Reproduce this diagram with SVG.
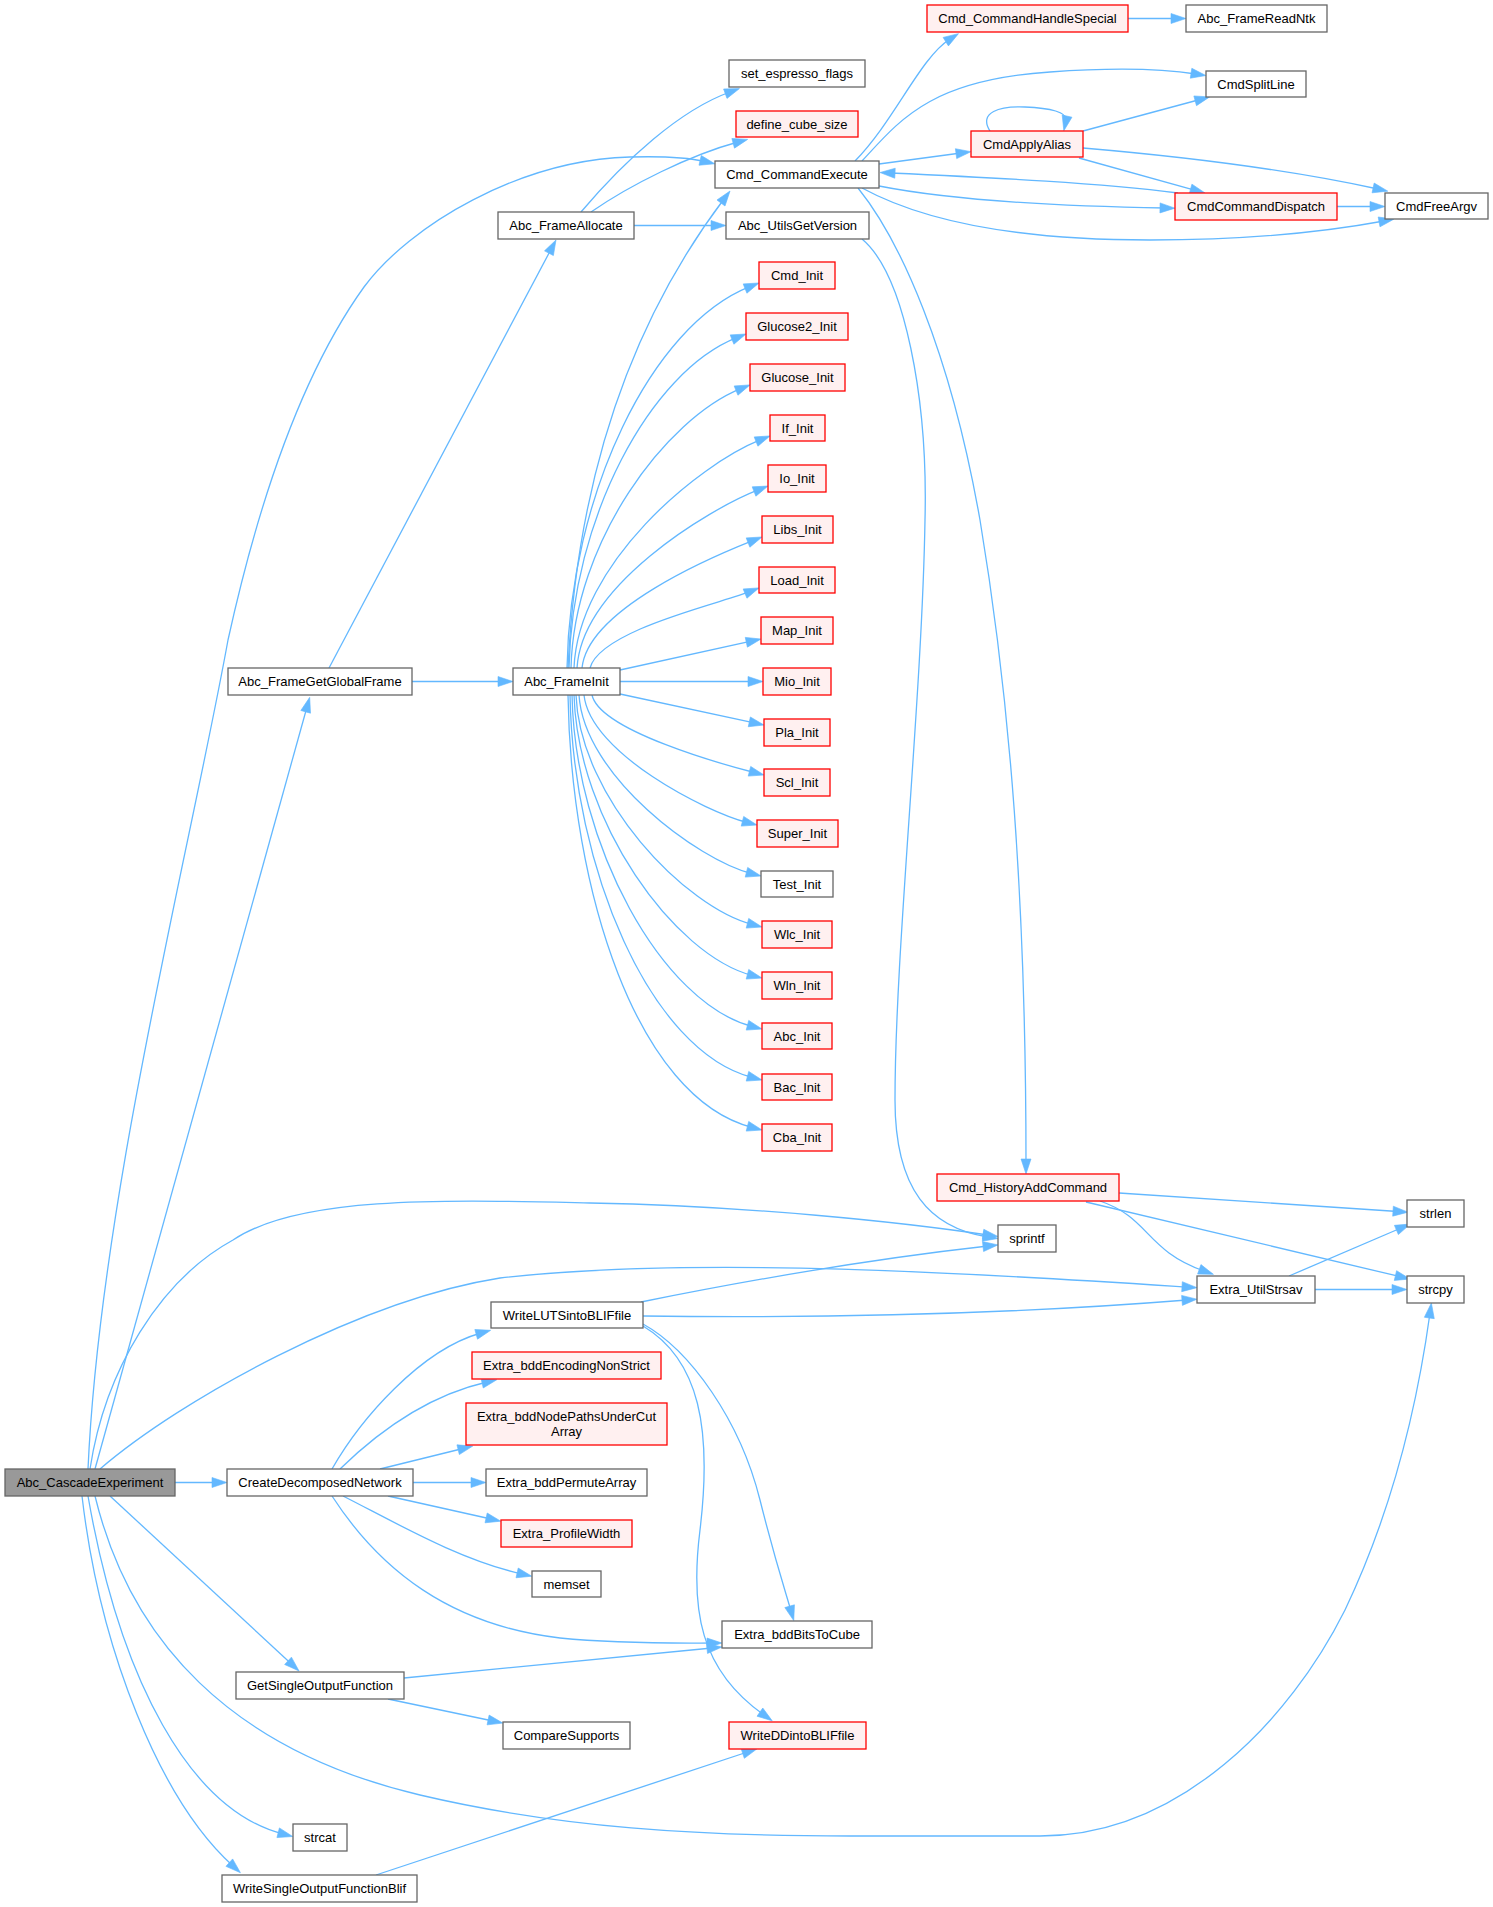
<svg xmlns="http://www.w3.org/2000/svg" width="1493" height="1907" viewBox="0 0 1493 1907">
<defs>
<style>
.n rect{fill:#ffffff;stroke:#666666;stroke-width:1.3}
.r rect{fill:#fff0f0;stroke:#ff0000;stroke-width:1.3}
.root rect{fill:#999999;stroke:#666666;stroke-width:1.3}
text{font-family:"Liberation Sans",Arial,Helvetica,sans-serif;font-size:13px;text-anchor:middle;fill:#000000}
#edges path{fill:none;stroke:#63b8ff;stroke-width:1.3;marker-end:url(#ah)}
</style>
<marker id="ah" markerUnits="userSpaceOnUse" markerWidth="15" markerHeight="10" viewBox="0 0 15 10" refX="5" refY="5" orient="auto" overflow="visible">
<path d="M0,0L15,5L0,10z" fill="#63b8ff" stroke="#63b8ff" stroke-width="0.6"/>
</marker>
</defs>
<rect width="1493" height="1907" fill="#ffffff"/>
<g id="edges">
<path d="M88,1469 C100,1200 190,850 228,640 C250,540 290,390 364,287 C410,225 520,160 630,157 C665,156 690,158 705,161.5"/>
<path d="M95,1469 L307,707"/>
<path d="M90,1469 C105,1370 160,1280 233,1240 C300,1195 450,1200 590,1203 C750,1206 900,1222 988,1235"/>
<path d="M100,1469 C180,1400 360,1300 500,1278 C700,1255 1000,1275 1187,1287"/>
<path d="M175,1482.5 L217,1482.5"/>
<path d="M110,1496 L291.7,1664.2"/>
<path d="M88,1496 C120,1680 190,1810 283,1834"/>
<path d="M82,1496 C100,1650 160,1800 233,1866"/>
<path d="M95,1496 C130,1640 230,1750 420,1795 C560,1828 700,1836 850,1836 L1040,1836 C1180,1836 1290,1720 1345,1610 C1395,1505 1418,1400 1430,1313"/>
<path d="M329,668 L551.3,248.8"/>
<path d="M412,681.5 L503,681.5"/>
<path d="M581,212 C625,160 680,110 730,92"/>
<path d="M591,212 C630,185 690,155 738,142"/>
<path d="M634,225.5 L716,225.5"/>
<path d="M862,239 C905,275 928,400 925,520 C922,700 895,950 895,1100 C895,1190 930,1228 988,1237"/>
<path d="M568,668 C575,520 610,350 724,199"/>
<path d="M567,668 C570,495 651,326 749.7,286.7"/>
<path d="M569,668 C572,518 650,372 736.7,337.7"/>
<path d="M571,668 C574,541 666,419 740.7,388.7"/>
<path d="M574,668 C578,564 697.5,465 760.7,439.7"/>
<path d="M577,668 C582,586 707,510 758.7,489.7"/>
<path d="M582,668 C588,609 713,556.5 752.7,540.7"/>
<path d="M590,668 C600,630 722,603 749.7,591.7"/>
<path d="M620,670 L751.2,641.2"/>
<path d="M620,681.5 L753,681.5"/>
<path d="M620,694 L754.2,722.9"/>
<path d="M592,695 C600,731 725,765 754.3,772.5"/>
<path d="M584,695 C590,753 706,812 747.3,822.5"/>
<path d="M579,695 C584,776 698,860 751.3,873.5"/>
<path d="M576,695 C580,799 686,907.5 752.3,924.5"/>
<path d="M574,695 C578,822 674,955 752.3,975.5"/>
<path d="M572,695 C575,845 662,1003 752.3,1026.5"/>
<path d="M570,695 C573,868 650,1051 752.3,1077.5"/>
<path d="M568,695 C571,891 637,1098 752.3,1127.5"/>
<path d="M855,161 C895,120 920,58 950,39"/>
<path d="M862,161 C900,120 930,80 1050,72 C1120,67 1170,70 1196,74"/>
<path d="M879,164 L961,153"/>
<path d="M879,186 C950,200 1050,206 1165,208"/>
<path d="M1178,193 C1100,183 1000,178 890,173"/>
<path d="M862,188 C930,225 1030,240 1150,240 C1250,240 1330,231 1384,221"/>
<path d="M990,131 C978,112 1000,106 1025,107 C1050,108 1068,112 1066,121"/>
<path d="M1083,131 L1200,99.5"/>
<path d="M1079,158 L1195.4,190.3"/>
<path d="M1083,148 C1200,158 1300,172 1378,189"/>
<path d="M1337,206.5 L1375,206.5"/>
<path d="M1128,18.5 L1176,18.5"/>
<path d="M858,188 C900,240 950,350 980,520 C1010,700 1026,900 1026,1164"/>
<path d="M1119,1193 L1398,1211.5"/>
<path d="M1100,1201 C1150,1218 1145,1250 1204,1271"/>
<path d="M1086,1202 L1400.3,1276.7"/>
<path d="M1289,1276 L1401,1228"/>
<path d="M1315,1289.5 L1397,1289.5"/>
<path d="M332,1469 C360,1420 420,1350 481,1333"/>
<path d="M340,1469 C380,1430 430,1395 487,1382"/>
<path d="M380,1469 L463,1448.5"/>
<path d="M413,1482.5 L476,1482.5"/>
<path d="M388,1496 L491,1519"/>
<path d="M343,1496 C400,1525 460,1560 522,1574"/>
<path d="M332,1496 C380,1570 450,1625 560,1638 C620,1644 680,1643 712,1643"/>
<path d="M641,1302 C750,1280 880,1258 988,1246"/>
<path d="M643,1316 C800,1318 1000,1315 1187,1300"/>
<path d="M643,1324 C690,1350 740,1420 760,1500 C775,1560 785,1590 791,1611"/>
<path d="M643,1326 C700,1360 712,1430 700,1530 C690,1610 700,1670 764,1715"/>
<path d="M404,1678 L712,1648"/>
<path d="M388,1699 L493,1721"/>
<path d="M376,1875 L747.5,1752"/>
</g>
<g id="n_Abc_CascadeExperiment" class="root"><rect x="5" y="1469" width="170" height="27"/><text x="90" y="1487">Abc_CascadeExperiment</text></g>
<g id="n_CreateDecomposedNetwork" class="n"><rect x="227" y="1469" width="186" height="27"/><text x="320" y="1487">CreateDecomposedNetwork</text></g>
<g id="n_WriteLUTSintoBLIFfile" class="n"><rect x="491" y="1302" width="152" height="26"/><text x="567" y="1319.5">WriteLUTSintoBLIFfile</text></g>
<g id="n_Extra_bddEncodingNonStrict" class="r"><rect x="472" y="1352" width="189" height="27"/><text x="566.5" y="1370">Extra_bddEncodingNonStrict</text></g>
<g id="n_Extra_bddNodePathsUnderCutArray" class="r"><rect x="466" y="1403" width="201" height="42"/><text x="566.5" y="1421">Extra_bddNodePathsUnderCut</text><text x="566.5" y="1436">Array</text></g>
<g id="n_Extra_bddPermuteArray" class="n"><rect x="486" y="1469" width="161" height="27"/><text x="566.5" y="1487">Extra_bddPermuteArray</text></g>
<g id="n_Extra_ProfileWidth" class="r"><rect x="501" y="1520" width="131" height="27"/><text x="566.5" y="1538">Extra_ProfileWidth</text></g>
<g id="n_memset" class="n"><rect x="532" y="1571" width="69" height="26"/><text x="566.5" y="1588.5">memset</text></g>
<g id="n_Extra_bddBitsToCube" class="n"><rect x="722" y="1621" width="150" height="27"/><text x="797" y="1639">Extra_bddBitsToCube</text></g>
<g id="n_GetSingleOutputFunction" class="n"><rect x="236" y="1672" width="168" height="27"/><text x="320" y="1690">GetSingleOutputFunction</text></g>
<g id="n_CompareSupports" class="n"><rect x="503" y="1722" width="127" height="27"/><text x="566.5" y="1740">CompareSupports</text></g>
<g id="n_WriteDDintoBLIFfile" class="r"><rect x="729" y="1722" width="137" height="27"/><text x="797.5" y="1740">WriteDDintoBLIFfile</text></g>
<g id="n_strcat" class="n"><rect x="293" y="1824" width="54" height="27"/><text x="320" y="1842">strcat</text></g>
<g id="n_WriteSingleOutputFunctionBlif" class="n"><rect x="222" y="1875" width="195" height="27"/><text x="319.5" y="1893">WriteSingleOutputFunctionBlif</text></g>
<g id="n_Cmd_HistoryAddCommand" class="r"><rect x="937" y="1174" width="182" height="27"/><text x="1028" y="1192">Cmd_HistoryAddCommand</text></g>
<g id="n_sprintf" class="n"><rect x="998" y="1225" width="58" height="27"/><text x="1027" y="1243">sprintf</text></g>
<g id="n_strlen" class="n"><rect x="1407" y="1200" width="57" height="27"/><text x="1435.5" y="1218">strlen</text></g>
<g id="n_Extra_UtilStrsav" class="n"><rect x="1197" y="1276" width="118" height="27"/><text x="1256" y="1294">Extra_UtilStrsav</text></g>
<g id="n_strcpy" class="n"><rect x="1407" y="1276" width="57" height="27"/><text x="1435.5" y="1294">strcpy</text></g>
<g id="n_Cmd_CommandHandleSpecial" class="r"><rect x="927" y="5" width="201" height="27"/><text x="1027.5" y="23">Cmd_CommandHandleSpecial</text></g>
<g id="n_Abc_FrameReadNtk" class="n"><rect x="1186" y="5" width="141" height="27"/><text x="1256.5" y="23">Abc_FrameReadNtk</text></g>
<g id="n_set_espresso_flags" class="n"><rect x="729" y="60" width="136" height="27"/><text x="797" y="78">set_espresso_flags</text></g>
<g id="n_CmdSplitLine" class="n"><rect x="1206" y="71" width="100" height="26"/><text x="1256" y="88.5">CmdSplitLine</text></g>
<g id="n_define_cube_size" class="r"><rect x="736" y="111" width="122" height="26"/><text x="797" y="128.5">define_cube_size</text></g>
<g id="n_CmdApplyAlias" class="r"><rect x="971" y="131" width="112" height="26"/><text x="1027" y="148.5">CmdApplyAlias</text></g>
<g id="n_Cmd_CommandExecute" class="n"><rect x="715" y="161" width="164" height="27"/><text x="797" y="179">Cmd_CommandExecute</text></g>
<g id="n_CmdCommandDispatch" class="r"><rect x="1175" y="193" width="162" height="27"/><text x="1256" y="211">CmdCommandDispatch</text></g>
<g id="n_CmdFreeArgv" class="n"><rect x="1385" y="193" width="103" height="26"/><text x="1436.5" y="210.5">CmdFreeArgv</text></g>
<g id="n_Abc_UtilsGetVersion" class="n"><rect x="726" y="212" width="143" height="27"/><text x="797.5" y="230">Abc_UtilsGetVersion</text></g>
<g id="n_Abc_FrameAllocate" class="n"><rect x="498" y="212" width="136" height="27"/><text x="566" y="230">Abc_FrameAllocate</text></g>
<g id="n_Abc_FrameGetGlobalFrame" class="n"><rect x="228" y="668" width="184" height="27"/><text x="320" y="686">Abc_FrameGetGlobalFrame</text></g>
<g id="n_Abc_FrameInit" class="n"><rect x="513" y="668" width="107" height="27"/><text x="566.5" y="686">Abc_FrameInit</text></g>
<g id="n_Cmd_Init" class="r"><rect x="759" y="262" width="76" height="27"/><text x="797" y="280">Cmd_Init</text></g>
<g id="n_Glucose2_Init" class="r"><rect x="746" y="313" width="102" height="27"/><text x="797" y="331">Glucose2_Init</text></g>
<g id="n_Glucose_Init" class="r"><rect x="750" y="364" width="95" height="27"/><text x="797.5" y="382">Glucose_Init</text></g>
<g id="n_If_Init" class="r"><rect x="770" y="415" width="55" height="26"/><text x="797.5" y="432.5">If_Init</text></g>
<g id="n_Io_Init" class="r"><rect x="768" y="465" width="58" height="27"/><text x="797" y="483">Io_Init</text></g>
<g id="n_Libs_Init" class="r"><rect x="762" y="516" width="71" height="27"/><text x="797.5" y="534">Libs_Init</text></g>
<g id="n_Load_Init" class="r"><rect x="759" y="567" width="76" height="26"/><text x="797" y="584.5">Load_Init</text></g>
<g id="n_Map_Init" class="r"><rect x="761" y="617" width="72" height="27"/><text x="797" y="635">Map_Init</text></g>
<g id="n_Mio_Init" class="r"><rect x="763" y="668" width="68" height="27"/><text x="797" y="686">Mio_Init</text></g>
<g id="n_Pla_Init" class="r"><rect x="764" y="719" width="66" height="27"/><text x="797" y="737">Pla_Init</text></g>
<g id="n_Scl_Init" class="r"><rect x="764" y="769" width="66" height="27"/><text x="797" y="787">Scl_Init</text></g>
<g id="n_Super_Init" class="r"><rect x="757" y="820" width="81" height="27"/><text x="797.5" y="838">Super_Init</text></g>
<g id="n_Test_Init" class="n"><rect x="761" y="871" width="72" height="26"/><text x="797" y="888.5">Test_Init</text></g>
<g id="n_Wlc_Init" class="r"><rect x="762" y="921" width="70" height="27"/><text x="797" y="939">Wlc_Init</text></g>
<g id="n_Wln_Init" class="r"><rect x="762" y="972" width="70" height="27"/><text x="797" y="990">Wln_Init</text></g>
<g id="n_Abc_Init" class="r"><rect x="762" y="1023" width="70" height="26"/><text x="797" y="1040.5">Abc_Init</text></g>
<g id="n_Bac_Init" class="r"><rect x="762" y="1074" width="70" height="26"/><text x="797" y="1091.5">Bac_Init</text></g>
<g id="n_Cba_Init" class="r"><rect x="762" y="1124" width="70" height="27"/><text x="797" y="1142">Cba_Init</text></g>
</svg>
